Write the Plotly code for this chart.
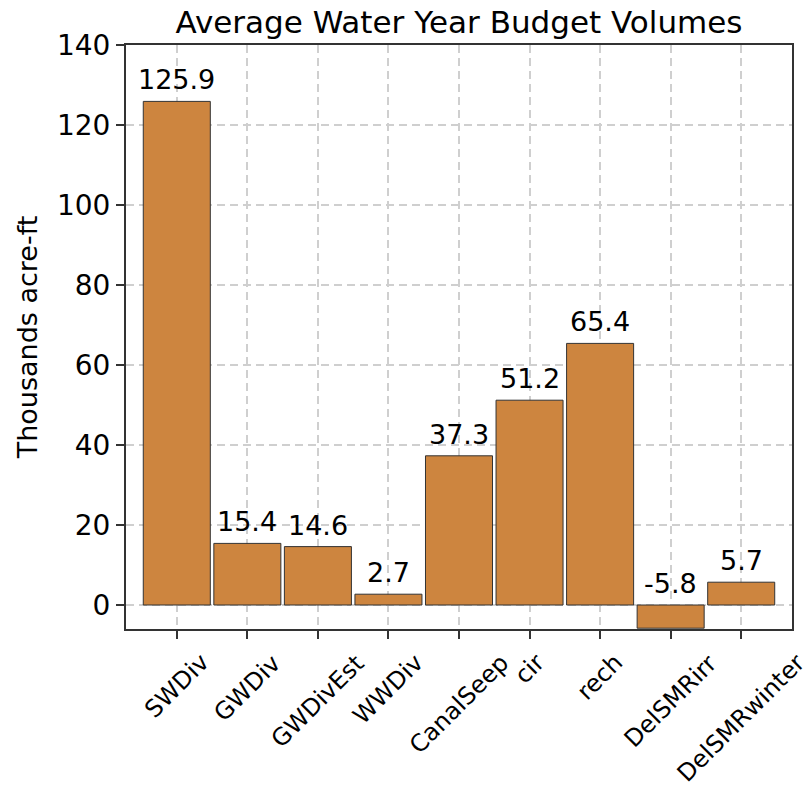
import plotly.graph_objects as go

categories = ["SWDiv", "GWDiv", "GWDivEst", "WWDiv", "CanalSeep", "cir", "rech", "DelSMRirr", "DelSMRwinter"]
values = [125.9, 15.4, 14.6, 2.7, 37.3, 51.2, 65.4, -5.8, 5.7]
value_labels = ["125.9", "15.4", "14.6", "2.7", "37.3", "51.2", "65.4", "-5.8", "5.7"]
y_ticks = [0, 20, 40, 60, 80, 100, 120, 140]

FONT = "DejaVu Sans"
BAR_COLOR = "#CD853F"
AXIS_COLOR = "#333333"
GRID_COLOR = "#cfcfcf"

xpos = list(range(len(categories)))

fig = go.Figure()
fig.add_trace(go.Bar(
    x=xpos, y=values, width=0.95,
    marker=dict(color=BAR_COLOR, line=dict(color=AXIS_COLOR, width=1)),
    hoverinfo="skip",
))

annotations = []
for i, (v, lab) in enumerate(zip(values, value_labels)):
    annotations.append(dict(
        x=i, y=max(v, 0), xref="x", yref="y", text=lab, showarrow=False,
        xanchor="center", yanchor="bottom", yshift=4,
        font=dict(family=FONT, size=27, color="black"),
    ))
for i, c in enumerate(categories):
    annotations.append(dict(
        x=i, y=0, xref="x", yref="paper", text=c, showarrow=False,
        textangle=-45, xanchor="center", yanchor="top", yshift=-17,
        font=dict(family=FONT, size=24, color="black"),
    ))

fig.update_layout(
    width=810, height=797,
    margin=dict(l=126, r=18, t=45, b=168),
    paper_bgcolor="white", plot_bgcolor="white",
    showlegend=False,
    font=dict(family=FONT, color="black"),
    title=dict(
        text="Average Water Year Budget Volumes",
        x=0.5, xref="paper", xanchor="center",
        y=1, yref="paper", yanchor="bottom", pad=dict(b=12),
        font=dict(family=FONT, size=31, color="black"),
    ),
    annotations=annotations,
    xaxis=dict(
        range=[-0.72, 8.72], tickmode="array", tickvals=xpos, ticktext=["" for _ in categories],
        showticklabels=False,
        showline=True, mirror=True, linecolor=AXIS_COLOR, linewidth=2,
        ticks="outside", ticklen=8, tickwidth=2, tickcolor=AXIS_COLOR,
        showgrid=True, gridcolor=GRID_COLOR, gridwidth=1.5, griddash="8px,5px",
        zeroline=False,
    ),
    yaxis=dict(
        range=[-6, 140], tickmode="array", tickvals=y_ticks,
        ticktext=[str(t) for t in y_ticks],
        tickfont=dict(family=FONT, size=28, color="black"),
        showline=True, mirror=True, linecolor=AXIS_COLOR, linewidth=2,
        ticks="outside", ticklen=8, tickwidth=2, tickcolor=AXIS_COLOR,
        showgrid=True, gridcolor=GRID_COLOR, gridwidth=1.5, griddash="8px,5px",
        zeroline=False,
        title=dict(text="Thousands acre-ft", font=dict(family=FONT, size=27, color="black"), standoff=11),
    ),
)

fig.write_html("out.html")
